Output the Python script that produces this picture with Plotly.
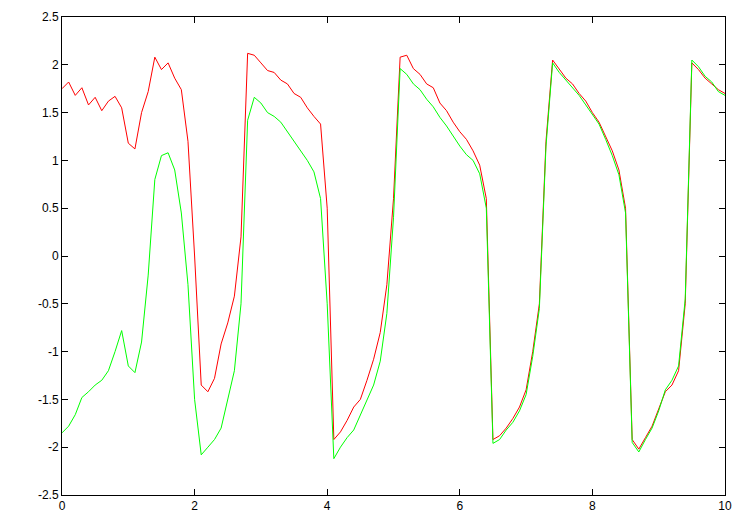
import plotly.graph_objects as go

x = [i/10 for i in range(101)]
red = [1.75,1.82,1.68,1.76,1.58,1.66,1.52,1.62,1.67,1.55,1.18,1.12,1.5,1.72,2.08,1.95,2.02,1.86,1.74,1.2,
       0.0,-1.35,-1.42,-1.28,-0.92,-0.7,-0.42,0.2,2.12,2.1,2.02,1.94,1.92,1.84,1.8,1.7,1.66,1.55,1.46,1.38,
       0.5,-1.92,-1.84,-1.72,-1.58,-1.5,-1.3,-1.08,-0.8,-0.3,0.6,2.08,2.1,1.96,1.9,1.8,1.76,1.6,1.52,1.4,
       1.3,1.22,1.1,0.95,0.6,-1.92,-1.88,-1.8,-1.7,-1.58,-1.4,-1.0,-0.5,1.2,2.05,1.95,1.86,1.8,1.7,1.62,
       1.5,1.4,1.25,1.1,0.9,0.5,-1.92,-2.02,-1.9,-1.78,-1.6,-1.42,-1.35,-1.2,-0.5,2.02,1.95,1.86,1.8,1.74,1.7]
green = [-1.85,-1.78,-1.66,-1.48,-1.42,-1.35,-1.3,-1.2,-1.0,-0.78,-1.15,-1.22,-0.9,-0.2,0.8,1.05,1.08,0.9,0.45,-0.3,
         -1.5,-2.08,-2.0,-1.92,-1.8,-1.5,-1.2,-0.5,1.42,1.66,1.6,1.5,1.46,1.4,1.3,1.2,1.1,1.0,0.88,0.6,
         -0.5,-2.12,-2.0,-1.9,-1.82,-1.66,-1.5,-1.35,-1.1,-0.6,0.4,1.96,1.9,1.8,1.74,1.64,1.56,1.45,1.36,1.25,
         1.15,1.06,1.0,0.86,0.5,-1.96,-1.92,-1.82,-1.74,-1.62,-1.45,-1.05,-0.55,1.15,2.02,1.92,1.84,1.76,1.68,1.58,
         1.48,1.38,1.22,1.05,0.85,0.45,-1.95,-2.05,-1.92,-1.8,-1.62,-1.4,-1.3,-1.15,-0.45,2.05,1.98,1.88,1.82,1.72,1.68]
ytick_vals = [-2.5,-2,-1.5,-1,-0.5,0,0.5,1,1.5,2,2.5]
ytick_text = ["-2.5","-2","-1.5","-1","-0.5","0","0.5","1","1.5","2","2.5"]
xtick_vals = [0,2,4,6,8,10]
xtick_text = ["0","2","4","6","8","10"]

fig = go.Figure()
fig.add_trace(go.Scatter(x=x, y=red, mode="lines", line=dict(color="#ff0000", width=1)))
fig.add_trace(go.Scatter(x=x, y=green, mode="lines", line=dict(color="#00ff00", width=1)))
ax = dict(showgrid=False, zeroline=False, showline=True, linecolor="black", linewidth=1, mirror="ticks",
          ticks="inside", ticklen=6, tickcolor="black", automargin=False,
          tickfont=dict(family="Liberation Sans", size=12, color="black"))
fig.update_layout(width=750, height=525, margin=dict(l=54, r=33, t=9, b=38), showlegend=False,
                  plot_bgcolor="white", paper_bgcolor="white",
                  xaxis=dict(range=[0, 10], tickvals=xtick_vals, ticktext=xtick_text, **ax),
                  yaxis=dict(range=[-2.5, 2.5], tickvals=ytick_vals, ticktext=ytick_text, **ax))
fig.write_html("out.html")
